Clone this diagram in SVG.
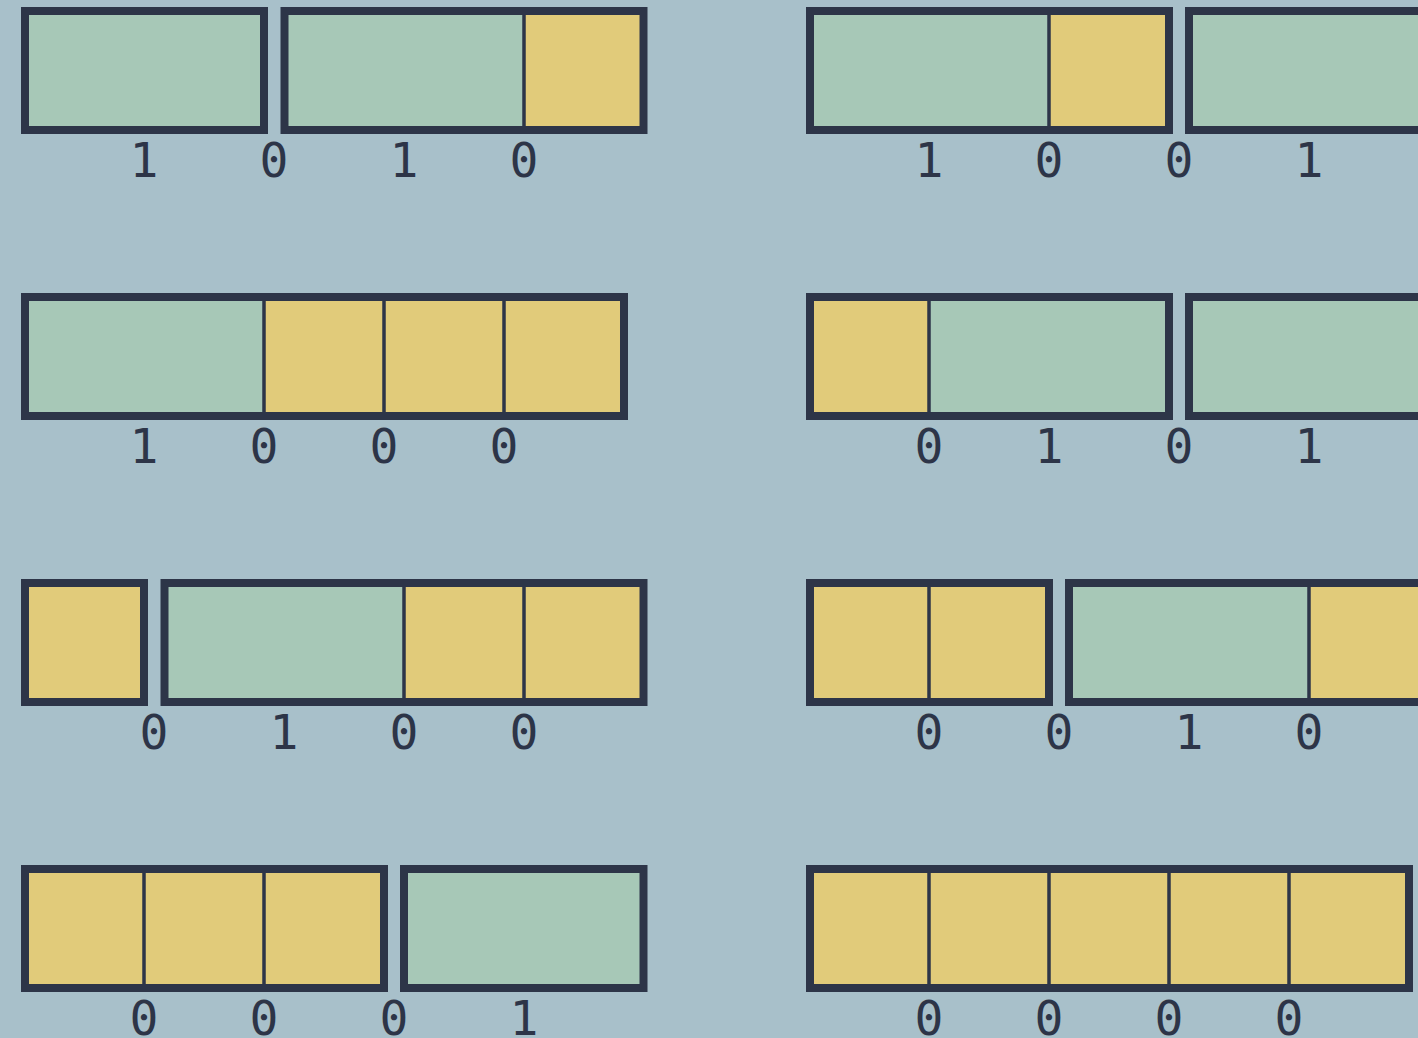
<svg xmlns="http://www.w3.org/2000/svg" width="1418" height="1038" viewBox="0 0 1418 1038">
<style>
.g{fill:#a7c8b7}
.y{fill:#e1cb7a}
.box{fill:none;stroke:#2d3548;stroke-width:8}
.div{stroke:#2d3548;stroke-width:3.5}
.d{font-family:"DejaVu Sans Mono",monospace;font-size:48px;fill:#2d3548;text-anchor:middle}
</style>
<rect width="1418" height="1038" fill="#a8c0ca"/>

<!-- Row 1 -->
<g id="r1-left-a"><rect class="g" x="25" y="11" width="239" height="119"/><rect class="box" x="25" y="11" width="239" height="119"/></g>
<g id="r1-left-b"><rect class="g" x="284.5" y="11" width="239.5" height="119"/><rect class="y" x="524" y="11" width="119.5" height="119"/><line class="div" x1="524" y1="11" x2="524" y2="130"/><rect class="box" x="284.5" y="11" width="359" height="119"/></g>
<g id="r1-right-a"><rect class="g" x="810" y="11" width="239" height="119"/><rect class="y" x="1049" y="11" width="120" height="119"/><line class="div" x1="1049" y1="11" x2="1049" y2="130"/><rect class="box" x="810" y="11" width="359" height="119"/></g>
<g id="r1-right-b"><rect class="g" x="1189" y="11" width="239" height="119"/><rect class="box" x="1189" y="11" width="239" height="119"/></g>
<g id="r1-digits">
<text class="d" x="144" y="177">1</text><text class="d" x="274" y="177">0</text><text class="d" x="404" y="177">1</text><text class="d" x="524" y="177">0</text>
<text class="d" x="929" y="177">1</text><text class="d" x="1049" y="177">0</text><text class="d" x="1179" y="177">0</text><text class="d" x="1309" y="177">1</text>
</g>

<!-- Row 2 -->
<g id="r2-left-a"><rect class="g" x="25" y="297" width="239" height="119"/><rect class="y" x="264" y="297" width="360" height="119"/><line class="div" x1="264" y1="297" x2="264" y2="416"/><line class="div" x1="384" y1="297" x2="384" y2="416"/><line class="div" x1="504" y1="297" x2="504" y2="416"/><rect class="box" x="25" y="297" width="599" height="119"/></g>
<g id="r2-right-a"><rect class="y" x="810" y="297" width="119" height="119"/><rect class="g" x="929" y="297" width="240" height="119"/><line class="div" x1="929" y1="297" x2="929" y2="416"/><rect class="box" x="810" y="297" width="359" height="119"/></g>
<g id="r2-right-b"><rect class="g" x="1189" y="297" width="239" height="119"/><rect class="box" x="1189" y="297" width="239" height="119"/></g>
<g id="r2-digits">
<text class="d" x="144" y="463">1</text><text class="d" x="264" y="463">0</text><text class="d" x="384" y="463">0</text><text class="d" x="504" y="463">0</text>
<text class="d" x="929" y="463">0</text><text class="d" x="1049" y="463">1</text><text class="d" x="1179" y="463">0</text><text class="d" x="1309" y="463">1</text>
</g>

<!-- Row 3 -->
<g id="r3-left-a"><rect class="y" x="25" y="583" width="119" height="119"/><rect class="box" x="25" y="583" width="119" height="119"/></g>
<g id="r3-left-b"><rect class="g" x="164.5" y="583" width="239.5" height="119"/><rect class="y" x="404" y="583" width="239.5" height="119"/><line class="div" x1="404" y1="583" x2="404" y2="702"/><line class="div" x1="524" y1="583" x2="524" y2="702"/><rect class="box" x="164.5" y="583" width="479" height="119"/></g>
<g id="r3-right-a"><rect class="y" x="810" y="583" width="239" height="119"/><line class="div" x1="929" y1="583" x2="929" y2="702"/><rect class="box" x="810" y="583" width="239" height="119"/></g>
<g id="r3-right-b"><rect class="g" x="1069" y="583" width="240" height="119"/><rect class="y" x="1309" y="583" width="119" height="119"/><line class="div" x1="1309" y1="583" x2="1309" y2="702"/><rect class="box" x="1069" y="583" width="359" height="119"/></g>
<g id="r3-digits">
<text class="d" x="154" y="749">0</text><text class="d" x="284" y="749">1</text><text class="d" x="404" y="749">0</text><text class="d" x="524" y="749">0</text>
<text class="d" x="929" y="749">0</text><text class="d" x="1059" y="749">0</text><text class="d" x="1189" y="749">1</text><text class="d" x="1309" y="749">0</text>
</g>

<!-- Row 4 -->
<g id="r4-left-a"><rect class="y" x="25" y="869" width="359" height="119"/><line class="div" x1="144" y1="869" x2="144" y2="988"/><line class="div" x1="264" y1="869" x2="264" y2="988"/><rect class="box" x="25" y="869" width="359" height="119"/></g>
<g id="r4-left-b"><rect class="g" x="404" y="869" width="239.5" height="119"/><rect class="box" x="404" y="869" width="239.5" height="119"/></g>
<g id="r4-right-a"><rect class="y" x="810" y="869" width="599" height="119"/><line class="div" x1="929" y1="869" x2="929" y2="988"/><line class="div" x1="1049" y1="869" x2="1049" y2="988"/><line class="div" x1="1169" y1="869" x2="1169" y2="988"/><line class="div" x1="1289" y1="869" x2="1289" y2="988"/><rect class="box" x="810" y="869" width="599" height="119"/></g>
<g id="r4-digits">
<text class="d" x="144" y="1035">0</text><text class="d" x="264" y="1035">0</text><text class="d" x="394" y="1035">0</text><text class="d" x="524" y="1035">1</text>
<text class="d" x="929" y="1035">0</text><text class="d" x="1049" y="1035">0</text><text class="d" x="1169" y="1035">0</text><text class="d" x="1289" y="1035">0</text>
</g>
</svg>
